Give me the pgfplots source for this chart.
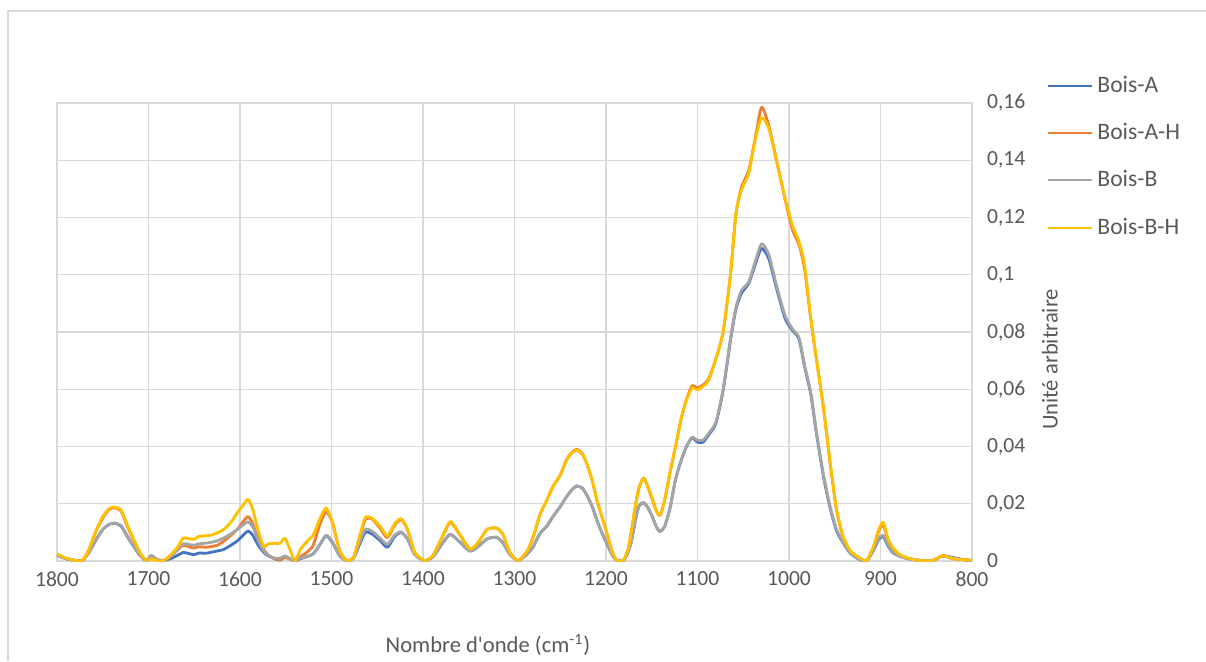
\documentclass[border=0pt]{standalone}
\usepackage{fontspec}
\setmainfont{Carlito}
\usepackage{pgfplots}
\usepackage{pgfplotstable}
\pgfplotsset{compat=1.18}
\definecolor{xblue}{HTML}{4472C4}
\definecolor{xorange}{HTML}{ED7D31}
\definecolor{xgray}{HTML}{A5A5A5}
\definecolor{xyellow}{HTML}{FFC000}
\definecolor{gridc}{HTML}{D9D9D9}
\definecolor{txt}{HTML}{595959}

\pgfplotstableread{
wn   A       AH      B       BH
1800 0.0020  0.0020  0.0020  0.0025
1790 0.0008  0.0008  0.0008  0.0010
1780 0.0002  0.0002  0.0002  0.0002
1772 0.0003  0.0003  0.0003  0.0003
1765 0.0030  0.0040  0.0030  0.0040
1758 0.0070  0.0100  0.0070  0.0100
1750 0.0110  0.0150  0.0110  0.0155
1743 0.0128  0.0180  0.0128  0.0183
1737 0.0132  0.0186  0.0133  0.0189
1730 0.0122  0.0175  0.0124  0.0178
1723 0.0085  0.0120  0.0088  0.0125
1715 0.0045  0.0065  0.0045  0.0068
1708 0.0015  0.0020  0.0015  0.0022
1702 0.0002  0.0002  0.0003  0.0002
1697 0.0015  0.0008  0.0020  0.0008
1690 0.0003  0.0002  0.0005  0.0001
1684 0.0002  0.0001  0.0002  0.0001
1676 0.0008  0.0015  0.0015  0.0020
1668 0.0020  0.0040  0.0040  0.0050
1662 0.0030  0.0055  0.0060  0.0080
1656 0.0026  0.0050  0.0058  0.0078
1650 0.0022  0.0045  0.0055  0.0076
1645 0.0028  0.0050  0.0060  0.0086
1638 0.0027  0.0048  0.0062  0.0088
1632 0.0030  0.0050  0.0065  0.0090
1625 0.0035  0.0055  0.0070  0.0098
1618 0.0040  0.0068  0.0080  0.0110
1610 0.0055  0.0090  0.0095  0.0135
1603 0.0070  0.0110  0.0110  0.0168
1596 0.0092  0.0140  0.0128  0.0198
1591 0.0105  0.0155  0.0137  0.0215
1586 0.0090  0.0130  0.0120  0.0180
1580 0.0055  0.0075  0.0070  0.0105
1574 0.0030  0.0040  0.0035  0.0050
1569 0.0018  0.0020  0.0020  0.0060
1562 0.0008  0.0008  0.0010  0.0062
1556 0.0003  0.0005  0.0010  0.0062
1551 0.0015  0.0012  0.0018  0.0080
1546 0.0008  0.0008  0.0010  0.0045
1540 0.0001  0.0001  0.0001  0.0001
1534 0.0008  0.0015  0.0010  0.0040
1527 0.0015  0.0030  0.0015  0.0068
1520 0.0025  0.0055  0.0025  0.0090
1513 0.0055  0.0125  0.0055  0.0145
1506 0.0088  0.0172  0.0090  0.0185
1499 0.0065  0.0135  0.0068  0.0135
1491 0.0018  0.0035  0.0018  0.0035
1483 0.0001  0.0001  0.0001  0.0001
1476 0.0010  0.0012  0.0010  0.0012
1469 0.0060  0.0085  0.0068  0.0090
1463 0.0100  0.0145  0.0110  0.0152
1456 0.0095  0.0148  0.0105  0.0150
1447 0.0072  0.0115  0.0080  0.0122
1439 0.0048  0.0082  0.0058  0.0088
1431 0.0085  0.0125  0.0090  0.0130
1424 0.0100  0.0145  0.0102  0.0148
1417 0.0077  0.0110  0.0078  0.0112
1409 0.0023  0.0030  0.0023  0.0030
1398 0.0001  0.0001  0.0001  0.0001
1389 0.0015  0.0020  0.0015  0.0020
1378 0.0065  0.0090  0.0065  0.0090
1370 0.0093  0.0135  0.0093  0.0138
1359 0.0064  0.0088  0.0064  0.0090
1349 0.0035  0.0042  0.0036  0.0042
1341 0.0047  0.0058  0.0047  0.0060
1330 0.0077  0.0110  0.0077  0.0110
1320 0.0083  0.0115  0.0083  0.0115
1313 0.0065  0.0095  0.0065  0.0095
1305 0.0023  0.0030  0.0023  0.0030
1296 0.0001  0.0001  0.0001  0.0001
1286 0.0025  0.0035  0.0025  0.0035
1280 0.0047  0.0080  0.0047  0.0080
1272 0.0097  0.0163  0.0097  0.0165
1265 0.0120  0.0210  0.0120  0.0210
1258 0.0155  0.0260  0.0155  0.0260
1250 0.0190  0.0300  0.0190  0.0300
1243 0.0225  0.0355  0.0225  0.0353
1237 0.0250  0.0380  0.0250  0.0378
1232 0.0262  0.0390  0.0262  0.0387
1226 0.0255  0.0375  0.0255  0.0372
1221 0.0230  0.0340  0.0231  0.0341
1215 0.0190  0.0280  0.0190  0.0280
1210 0.0143  0.0213  0.0143  0.0213
1204 0.0095  0.0150  0.0095  0.0150
1199 0.0060  0.0097  0.0062  0.0097
1193 0.0020  0.0030  0.0020  0.0030
1188 0.0002  0.0002  0.0002  0.0002
1181 0.0002  0.0002  0.0002  0.0002
1176 0.0030  0.0040  0.0030  0.0040
1172 0.0073  0.0108  0.0073  0.0108
1168 0.0140  0.0190  0.0140  0.0190
1164 0.0192  0.0255  0.0192  0.0255
1159 0.0204  0.0290  0.0204  0.0290
1155 0.0190  0.0265  0.0190  0.0265
1150 0.0160  0.0220  0.0160  0.0225
1145 0.0120  0.0175  0.0120  0.0175
1141 0.0103  0.0160  0.0103  0.0160
1136 0.0120  0.0210  0.0120  0.0213
1130 0.0185  0.0310  0.0185  0.0310
1124 0.0285  0.0400  0.0285  0.0400
1118 0.0350  0.0495  0.0350  0.0495
1112 0.0400  0.0565  0.0400  0.0562
1106 0.0430  0.0612  0.0432  0.0605
1100 0.0415  0.0605  0.0422  0.0598
1094 0.0415  0.0615  0.0422  0.0610
1088 0.0440  0.0635  0.0445  0.0630
1080 0.0480  0.0705  0.0485  0.0705
1072 0.0595  0.0800  0.0600  0.0800
1064 0.0770  0.1000  0.0775  0.1000
1058 0.0880  0.1210  0.0885  0.1215
1052 0.0935  0.1305  0.0945  0.1295
1044 0.0970  0.1365  0.0975  0.1355
1037 0.1035  0.1475  0.1045  0.1470
1030 0.1092  0.1585  0.1108  0.1548
1022 0.1055  0.1520  0.1070  0.1510
1013 0.0945  0.1390  0.0955  0.1388
1004 0.0845  0.1260  0.0855  0.1265
996  0.0805  0.1155  0.0810  0.1170
989  0.0775  0.1105  0.0780  0.1115
983  0.0680  0.1020  0.0685  0.1035
976  0.0580  0.0840  0.0585  0.0845
970  0.0446  0.0705  0.0450  0.0705
962  0.0290  0.0527  0.0295  0.0527
955  0.0185  0.0341  0.0190  0.0345
948  0.0105  0.0178  0.0110  0.0180
941  0.0065  0.0085  0.0068  0.0088
933  0.0027  0.0035  0.0028  0.0036
922  0.0003  0.0008  0.0003  0.0009
915  0.0002  0.0002  0.0002  0.0002
908  0.0035  0.0045  0.0038  0.0048
902  0.0075  0.0105  0.0080  0.0110
897  0.0085  0.0125  0.0090  0.0135
892  0.0055  0.0075  0.0060  0.0080
887  0.0030  0.0045  0.0032  0.0050
880  0.0018  0.0022  0.0018  0.0025
870  0.0008  0.0010  0.0008  0.0010
857  0.0002  0.0002  0.0002  0.0002
843  0.0002  0.0002  0.0002  0.0002
832  0.0018  0.0018  0.0018  0.0019
821  0.0012  0.0008  0.0010  0.0008
810  0.0005  0.0005  0.0005  0.0005
800  0.0002  0.0002  0.0002  0.0002
}\data

\begin{document}
\begin{tikzpicture}
\path[use as bounding box] (0,0) rectangle (603pt,330.5pt);
\draw[gridc, line width=0.6pt] (4pt,0) -- (4pt,325pt) -- (603pt,325pt);
\begin{axis}[
  at={(28.5pt,50pt)}, anchor=south west,
  scale only axis, width=457.5pt, height=229pt,
  x dir=reverse, xmin=800, xmax=1800, ymin=0, ymax=0.16,
  xtick={800,900,...,1800}, ytick={0,0.02,...,0.16},
  scaled y ticks=false, scaled x ticks=false,
  grid=major, major grid style={gridc, line width=0.6pt},
  axis line style={gridc, line width=0.6pt},
  major tick length=0pt,
  yticklabel pos=right,
  /pgf/number format/assume math mode=true,
  /pgf/number format/use comma,
  /pgf/number format/1000 sep={},
  yticklabel style={/pgf/number format/fixed, /pgf/number format/precision=2, anchor=west, xshift=4pt, font=\fontsize{10.8}{12}\selectfont, text=txt},
  xticklabel style={anchor=center, yshift=-9pt, font=\fontsize{10.8}{12}\selectfont, text=txt},
  xlabel={Nombre d\textquotesingle onde (cm\textsuperscript{-1})},
  xlabel style={at={(axis description cs:0.471,-0.183)}, anchor=center, font=\fontsize{11.3}{12}\selectfont, text=txt},
  ylabel={Unité arbitraire},
  ylabel style={at={(axis description cs:1.085,0.44)}, anchor=center, rotate=0, font=\fontsize{11.3}{12}\selectfont, text=txt},
  legend style={at={(axis description cs:1.082,1.068)}, anchor=north west, draw=none, fill=none,
    font=\fontsize{11.8}{13}\selectfont, text=txt, row sep=10pt, inner sep=0pt,
    /tikz/every even column/.append style={column sep=0pt}},
  legend cell align=left,
  legend image code/.code={\draw[#1, line width=1pt] (0pt,0pt) -- (22pt,0pt);},
  every axis plot/.append style={line width=1.4pt, line join=round},
]
\addplot[xblue, smooth, tension=0.4] table[x=wn, y=A] {\data};
\addlegendentry{Bois-A}
\addplot[xorange, smooth, tension=0.4] table[x=wn, y=AH] {\data};
\addlegendentry{Bois-A-H}
\addplot[xgray, smooth, tension=0.4] table[x=wn, y=B] {\data};
\addlegendentry{Bois-B}
\addplot[xyellow, smooth, tension=0.4] table[x=wn, y=BH] {\data};
\addlegendentry{Bois-B-H}
\end{axis}
\end{tikzpicture}
\end{document}
